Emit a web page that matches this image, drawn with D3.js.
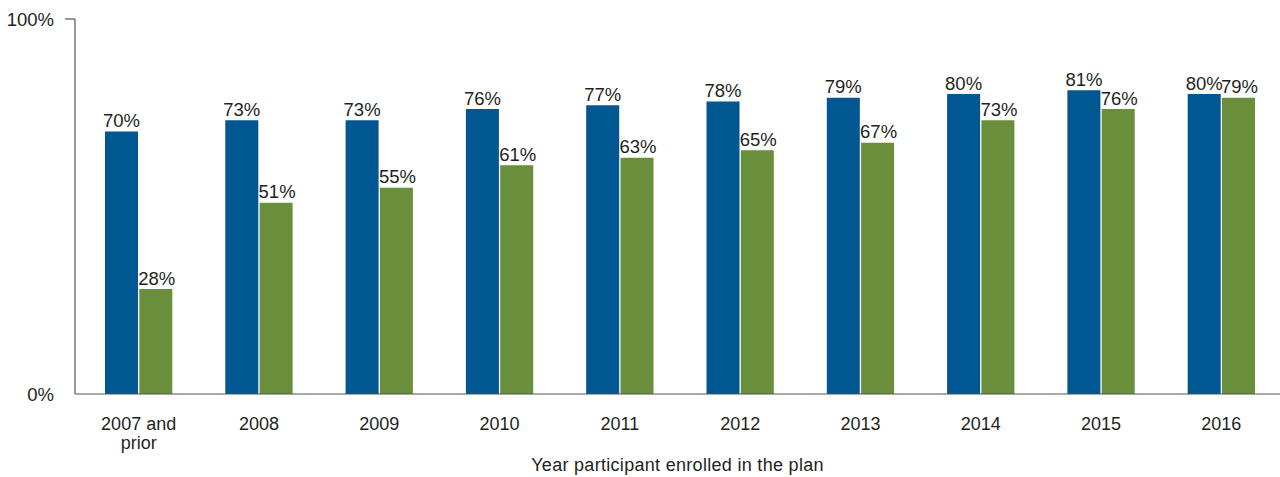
<!DOCTYPE html>
<html>
<head>
<meta charset="utf-8">
<script src="https://cdn.jsdelivr.net/npm/d3@7"></script>
<style>
  html, body { margin: 0; padding: 0; background: #fff; }
  svg { display: block; }
  text { font-family: "Liberation Sans", Arial, sans-serif; fill: #231f20; }
</style>
</head>
<body>
<svg id="chart" width="1280" height="477"></svg>
<script>
const categories = ["2007 and prior", "2008", "2009", "2010", "2011", "2012", "2013", "2014", "2015", "2016"];
const seriesA = [70, 73, 73, 76, 77, 78, 79, 80, 81, 80];
const seriesB = [28, 51, 55, 61, 63, 65, 67, 73, 76, 79];
const yTicks = [0, 100];
const xTitle = "Year participant enrolled in the plan";

(function () {
const colors = ["#005791", "#698f3d"];
const svg = d3.select("#chart");

const axisLeft = 75, axisRight = 1280, plotTop = 19, plotBottom = 394;

const x = d3.scaleBand().domain(categories).range([78.5, 1281.5]).padding(0);
const y = d3.scaleLinear().domain([0, 100]).range([plotBottom, plotTop]);
const barW = 33, gap = 1.3;

const rows = categories.map((c, i) => ({ c, a: seriesA[i], b: seriesB[i] }));

const g = svg.append("g");
rows.forEach(r => {
  const cx = x(r.c) + x.bandwidth() / 2;
  const vals = [r.a, r.b];
  vals.forEach((v, k) => {
    const x0 = k === 0 ? cx - gap / 2 - barW : cx + gap / 2;
    g.append("rect")
      .attr("x", x0).attr("y", y(v))
      .attr("width", barW).attr("height", y(0) - y(v))
      .attr("fill", colors[k]);
    g.append("text")
      .attr("x", x0 + barW / 2 + (k === 1 ? 1 : 0)).attr("y", y(v) - 4.5)
      .attr("text-anchor", "middle")
      .attr("font-size", 18.5)
      .text(v + "%");
  });
});

svg.append("line").attr("x1", axisLeft).attr("x2", axisLeft)
  .attr("y1", plotTop).attr("y2", plotBottom).attr("stroke", "#555").attr("stroke-width", 1.2);
svg.append("line").attr("x1", axisLeft - 10).attr("x2", axisLeft)
  .attr("y1", y(100)).attr("y2", y(100)).attr("stroke", "#555").attr("stroke-width", 1.2);
yTicks.forEach(t => {
  svg.append("text").attr("x", 54).attr("y", y(t) + 6.5)
    .attr("text-anchor", "end").attr("font-size", 18.5).text(t + "%");
});

svg.append("line").attr("x1", axisLeft).attr("x2", axisRight)
  .attr("y1", plotBottom).attr("y2", plotBottom).attr("stroke", "#555").attr("stroke-width", 1.2);

rows.forEach(r => {
  const cx = x(r.c) + x.bandwidth() / 2;
  const t = svg.append("text").attr("x", cx).attr("y", 430)
    .attr("text-anchor", "middle").attr("font-size", 18);
  if (r.c === "2007 and prior") {
    t.append("tspan").attr("x", cx).attr("dy", 0).text("2007 and");
    t.append("tspan").attr("x", cx).attr("dy", 19).text("prior");
  } else {
    t.text(r.c);
  }
});

svg.append("text").attr("x", (axisLeft + axisRight) / 2).attr("y", 471)
  .attr("text-anchor", "middle").attr("font-size", 18).attr("letter-spacing", 0.3).text(xTitle);
})();
</script>
</body>
</html>
